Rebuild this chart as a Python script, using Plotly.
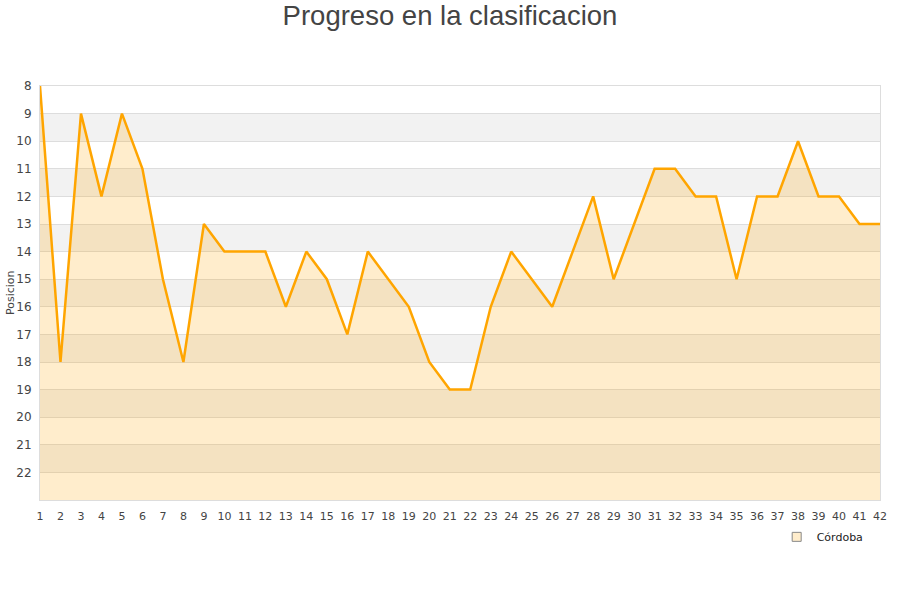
import plotly.graph_objects as go

jornadas = list(range(1, 43))
posiciones = [8, 18, 9, 12, 9, 11, 15, 18, 13, 14, 14, 14, 16, 14, 15, 17, 14, 15, 16, 18,
              19, 19, 16, 14, 15, 16, 14, 12, 15, 13, 11, 11, 12, 12, 15, 12, 12, 10, 12, 12,
              13, 13]
y_ticks = list(range(8, 23))
x_ticks = jornadas
equipo = "Córdoba"
titulo = "Progreso en la clasificacion"
eje_y = "Posicion"

Y_MIN, Y_MAX = 8, 23

fig = go.Figure()

# baseline for fill (bottom of the reversed axis)
fig.add_trace(go.Scatter(x=jornadas, y=[Y_MAX] * len(jornadas), mode="lines",
                         line=dict(width=0, color="rgba(0,0,0,0)"), showlegend=False,
                         hoverinfo="skip"))
fig.add_trace(go.Scatter(x=jornadas, y=posiciones, mode="lines", fill="tonexty",
                         fillcolor="rgba(255,165,0,0.2)",
                         line=dict(color="#FFA500", width=2.5), showlegend=False,
                         name=equipo))
# legend entry
fig.add_trace(go.Scatter(x=[None], y=[None], mode="markers", name=equipo,
                         marker=dict(symbol="square", size=9, color="#FFEDCC",
                                     line=dict(color="#888", width=1))))

shapes = []
for k in range(9, Y_MAX, 2):
    shapes.append(dict(type="rect", xref="paper", yref="y", x0=0, x1=1, y0=k, y1=k + 1,
                       fillcolor="#F2F2F2", line=dict(width=0), layer="below"))

fig.update_layout(
    width=900, height=600,
    paper_bgcolor="white", plot_bgcolor="white",
    margin=dict(l=40, r=20, t=86, b=100, autoexpand=False),
    title=dict(text=titulo, x=0.5, xanchor="center", y=0.975, yanchor="middle",
               font=dict(family="Liberation Sans, Arial, sans-serif", size=27.5, color="#444")),
    font=dict(family="DejaVu Sans, sans-serif", size=11, color="#444"),
    shapes=shapes,
    annotations=[dict(text=eje_y, xref="paper", yref="paper", x=-0.0357, y=0.5,
                      xanchor="center", yanchor="middle", textangle=-90, showarrow=False,
                      font=dict(size=11, color="#444"))],
    showlegend=True,
    legend=dict(x=0.877, y=-0.089, xanchor="left", yanchor="middle",
                font=dict(size=11, color="#222"), bgcolor="rgba(0,0,0,0)"),
    xaxis=dict(range=[1, 42], tickmode="array", tickvals=x_ticks, automargin=False,
               showgrid=False, zeroline=False, showline=True, linecolor="#DDDDDD",
               mirror=True, ticks="", ticklabelstandoff=6,
               tickfont=dict(size=11, color="#444")),
    yaxis=dict(range=[Y_MAX, Y_MIN], tickmode="array", tickvals=y_ticks, automargin=False,
               showgrid=True, gridcolor="#DDDDDD", gridwidth=1, zeroline=False,
               showline=True, linecolor="#DDDDDD", mirror=True, ticks="",
               ticklabelstandoff=5, tickfont=dict(size=12, color="#444")),
)

fig.write_html("out.html", config={"displayModeBar": False},
               post_script="document.body.style.margin='0px';")
